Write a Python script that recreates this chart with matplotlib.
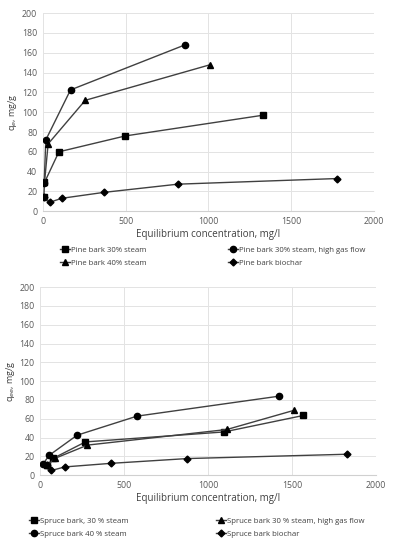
import matplotlib.pyplot as plt

plt.rcParams['font.family'] = ['Open Sans', 'DejaVu Sans']

# Pine bark (top chart)
pine30_x = [6, 10, 97, 497, 1331]
pine30_y = [14, 29, 60, 76, 97]
pine30hgf_x = [8, 18, 167, 858]
pine30hgf_y = [28, 72, 122.5, 168]
pine40_x = [10, 32, 256, 1011]
pine40_y = [29, 68, 112, 148]
pinebio_x = [6, 42, 113, 368, 815, 1778]
pinebio_y = [14, 9, 13, 19, 27.3, 33]

# Spruce bark (bottom chart)
spruce30_x = [43, 79, 270, 1095, 1567]
spruce30_y = [10.5, 18, 35.4, 46, 63.5]
spruce30hgf_x = [43, 90, 282, 1112, 1512]
spruce30hgf_y = [10.5, 18, 32, 48.6, 69]
spruce40_x = [20, 53, 220, 577, 1421]
spruce40_y = [12.4, 21, 42.5, 62.8, 84]
sprucebio_x = [43, 67, 147, 421, 877, 1829]
sprucebio_y = [10.5, 5, 8.8, 12.6, 17.7, 22.3]

line_col = '#404040'
grid_col = '#e3e3e3'
tick_col = '#595959'


def draw(ax, series, ylabel):
    handles = []
    for x, y, m, ms, lab in series:
        h, = ax.plot(x, y, color=line_col, lw=1.0, marker=m, ms=ms,
                     mfc='black', mec='black', label=lab)
        handles.append(h)
    ax.set_xlim(0, 2000)
    ax.set_ylim(0, 200)
    ax.set_xticks(range(0, 2001, 500))
    ax.set_yticks(range(0, 201, 20))
    ax.grid(True, color=grid_col, lw=0.7)
    ax.set_axisbelow(True)
    for s in ['top', 'right', 'left']:
        ax.spines[s].set_visible(False)
    ax.spines['bottom'].set_color('#d0d0d0')
    ax.tick_params(length=0, labelsize=6.3, colors=tick_col, pad=4)
    ax.set_xlabel('Equilibrium concentration, mg/l', fontsize=7, color='#404040', labelpad=2)
    ax.set_ylabel(ylabel, fontsize=6.5, color='#404040', labelpad=2)
    return handles


fig = plt.figure(figsize=(3.93, 5.5), dpi=100)

ax1 = fig.add_axes([0.109, 0.616, 0.843, 0.360])
h1 = draw(ax1, [
    (pine30_x, pine30_y, 's', 5, 'Pine bark 30% steam'),
    (pine30hgf_x, pine30hgf_y, 'o', 4.5, 'Pine bark 30% steam, high gas flow'),
    (pine40_x, pine40_y, '^', 5, 'Pine bark 40% steam'),
    (pinebio_x, pinebio_y, 'D', 3.5, 'Pine bark biochar'),
], 'q$_{e}$, mg/g')

ax2 = fig.add_axes([0.102, 0.136, 0.855, 0.342])
h2 = draw(ax2, [
    (spruce30_x, spruce30_y, 's', 5, 'Spruce bark, 30 % steam'),
    (spruce30hgf_x, spruce30hgf_y, '^', 5, 'Spruce bark 30 % steam, high gas flow'),
    (spruce40_x, spruce40_y, 'o', 4.5, 'Spruce bark 40 % steam'),
    (sprucebio_x, sprucebio_y, 'D', 3.5, 'Spruce bark biochar'),
], 'q$_{ee}$, mg/g')

leg_kw = dict(ncol=2, frameon=False, fontsize=5.6, handlelength=1.3,
              handletextpad=0.1, labelspacing=0.75,
              labelcolor='#404040', borderaxespad=0)

order1 = [h1[0], h1[2], h1[1], h1[3]]
fig.legend(order1, [h.get_label() for h in order1],
           loc='upper left', bbox_to_anchor=(0.145, 0.558),
           columnspacing=10.5, **leg_kw)
order2 = [h2[0], h2[2], h2[1], h2[3]]
fig.legend(order2, [h.get_label() for h in order2],
           loc='upper left', bbox_to_anchor=(0.065, 0.065),
           columnspacing=11.3, **leg_kw)

fig.savefig('out.png', dpi=100)
